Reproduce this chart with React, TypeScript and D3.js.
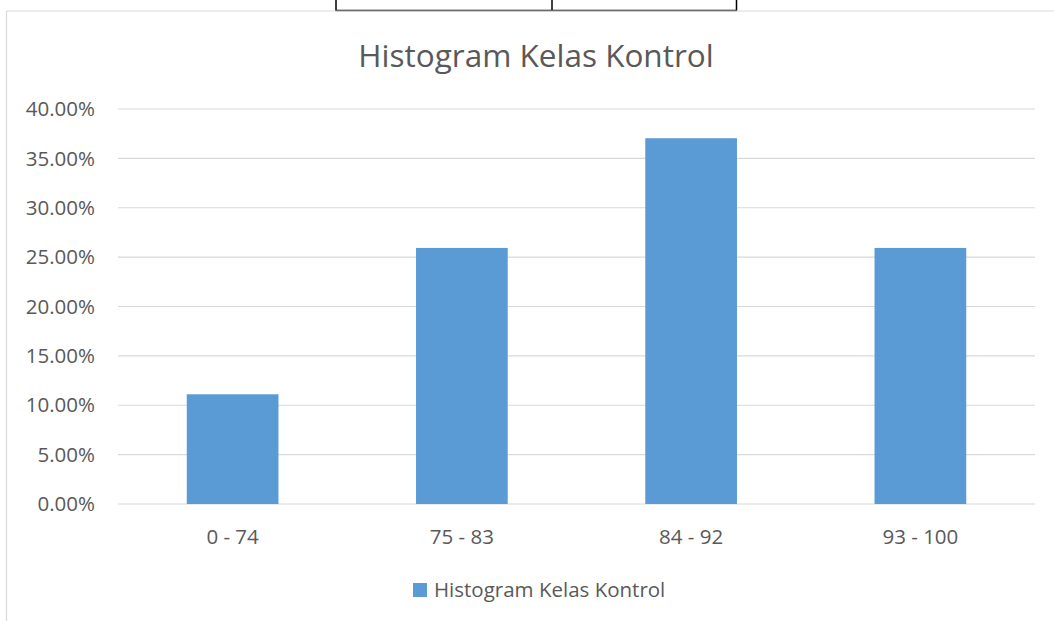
import React from "react";
import * as d3 from "d3";

const categories = ["0 - 74", "75 - 83", "84 - 92", "93 - 100"];
const values = [11.11, 25.93, 37.04, 25.93];
const yTicks = [0, 5, 10, 15, 20, 25, 30, 35, 40];
const seriesName = "Histogram Kelas Kontrol";
const chartTitle = "Histogram Kelas Kontrol";

const W = 1054;
const H = 621;
const FONT = "'Open Sans', 'Noto Sans', sans-serif";
const TEXT = "#595959";
const GRID = "#D9D9D9";
const BAR = "#5B9BD5";

const App: React.FC = () => {
  const plot = { left: 118, right: 1035, top: 109, bottom: 504 };

  const x = d3
    .scaleBand<string>()
    .domain(categories)
    .range([plot.left, plot.right])
    .paddingInner(0.6)
    .paddingOuter(0.3);

  const y = d3.scaleLinear().domain([0, 40]).range([plot.bottom, plot.top]);

  return (
    <svg
      width={W}
      height={H}
      style={{ position: "absolute", left: 0, top: 0, background: "#fff" }}
    >
      {/* piece of a table above the chart */}
      <g stroke="#000" strokeWidth={1.5} fill="none">
        <path d="M336,0 V10.5 H736.5 V0" />
        <line x1={552} x2={552} y1={0} y2={10.5} />
      </g>

      {/* chart frame */}
      <g stroke={GRID} strokeWidth={1.2} fill="none">
        <line x1={6.5} x2={W} y1={11} y2={11} />
        <line x1={6.5} x2={6.5} y1={11} y2={H} />
      </g>

      <text
        x={536}
        y={67}
        textAnchor="middle"
        fontFamily={FONT}
        fontSize={31.5}
        fill={TEXT}
      >
        {chartTitle}
      </text>

      {/* gridlines and y ticks */}
      {yTicks.map((t) => (
        <g key={t}>
          <line
            x1={plot.left}
            x2={plot.right}
            y1={y(t)}
            y2={y(t)}
            stroke={GRID}
            strokeWidth={1.2}
          />
          <text
            x={95}
            y={y(t)}
            dy="0.35em"
            textAnchor="end"
            fontFamily={FONT}
            fontSize={20.5}
            fill={TEXT}
          >
            {d3.format(".2f")(t)}%
          </text>
        </g>
      ))}

      {/* bars */}
      {values.map((v, i) => (
        <rect
          key={categories[i]}
          x={x(categories[i])}
          y={y(v)}
          width={x.bandwidth()}
          height={y(0) - y(v)}
          fill={BAR}
        />
      ))}

      {/* x labels */}
      {categories.map((c) => (
        <text
          key={c}
          x={(x(c) ?? 0) + x.bandwidth() / 2}
          y={544}
          textAnchor="middle"
          fontFamily={FONT}
          fontSize={20.5}
          fill={TEXT}
        >
          {c}
        </text>
      ))}

      {/* legend */}
      <rect x={413} y={583} width={14} height={14} fill={BAR} />
      <text x={434} y={597} fontFamily={FONT} fontSize={20.5} fill={TEXT}>
        {seriesName}
      </text>
    </svg>
  );
};

export default App;
